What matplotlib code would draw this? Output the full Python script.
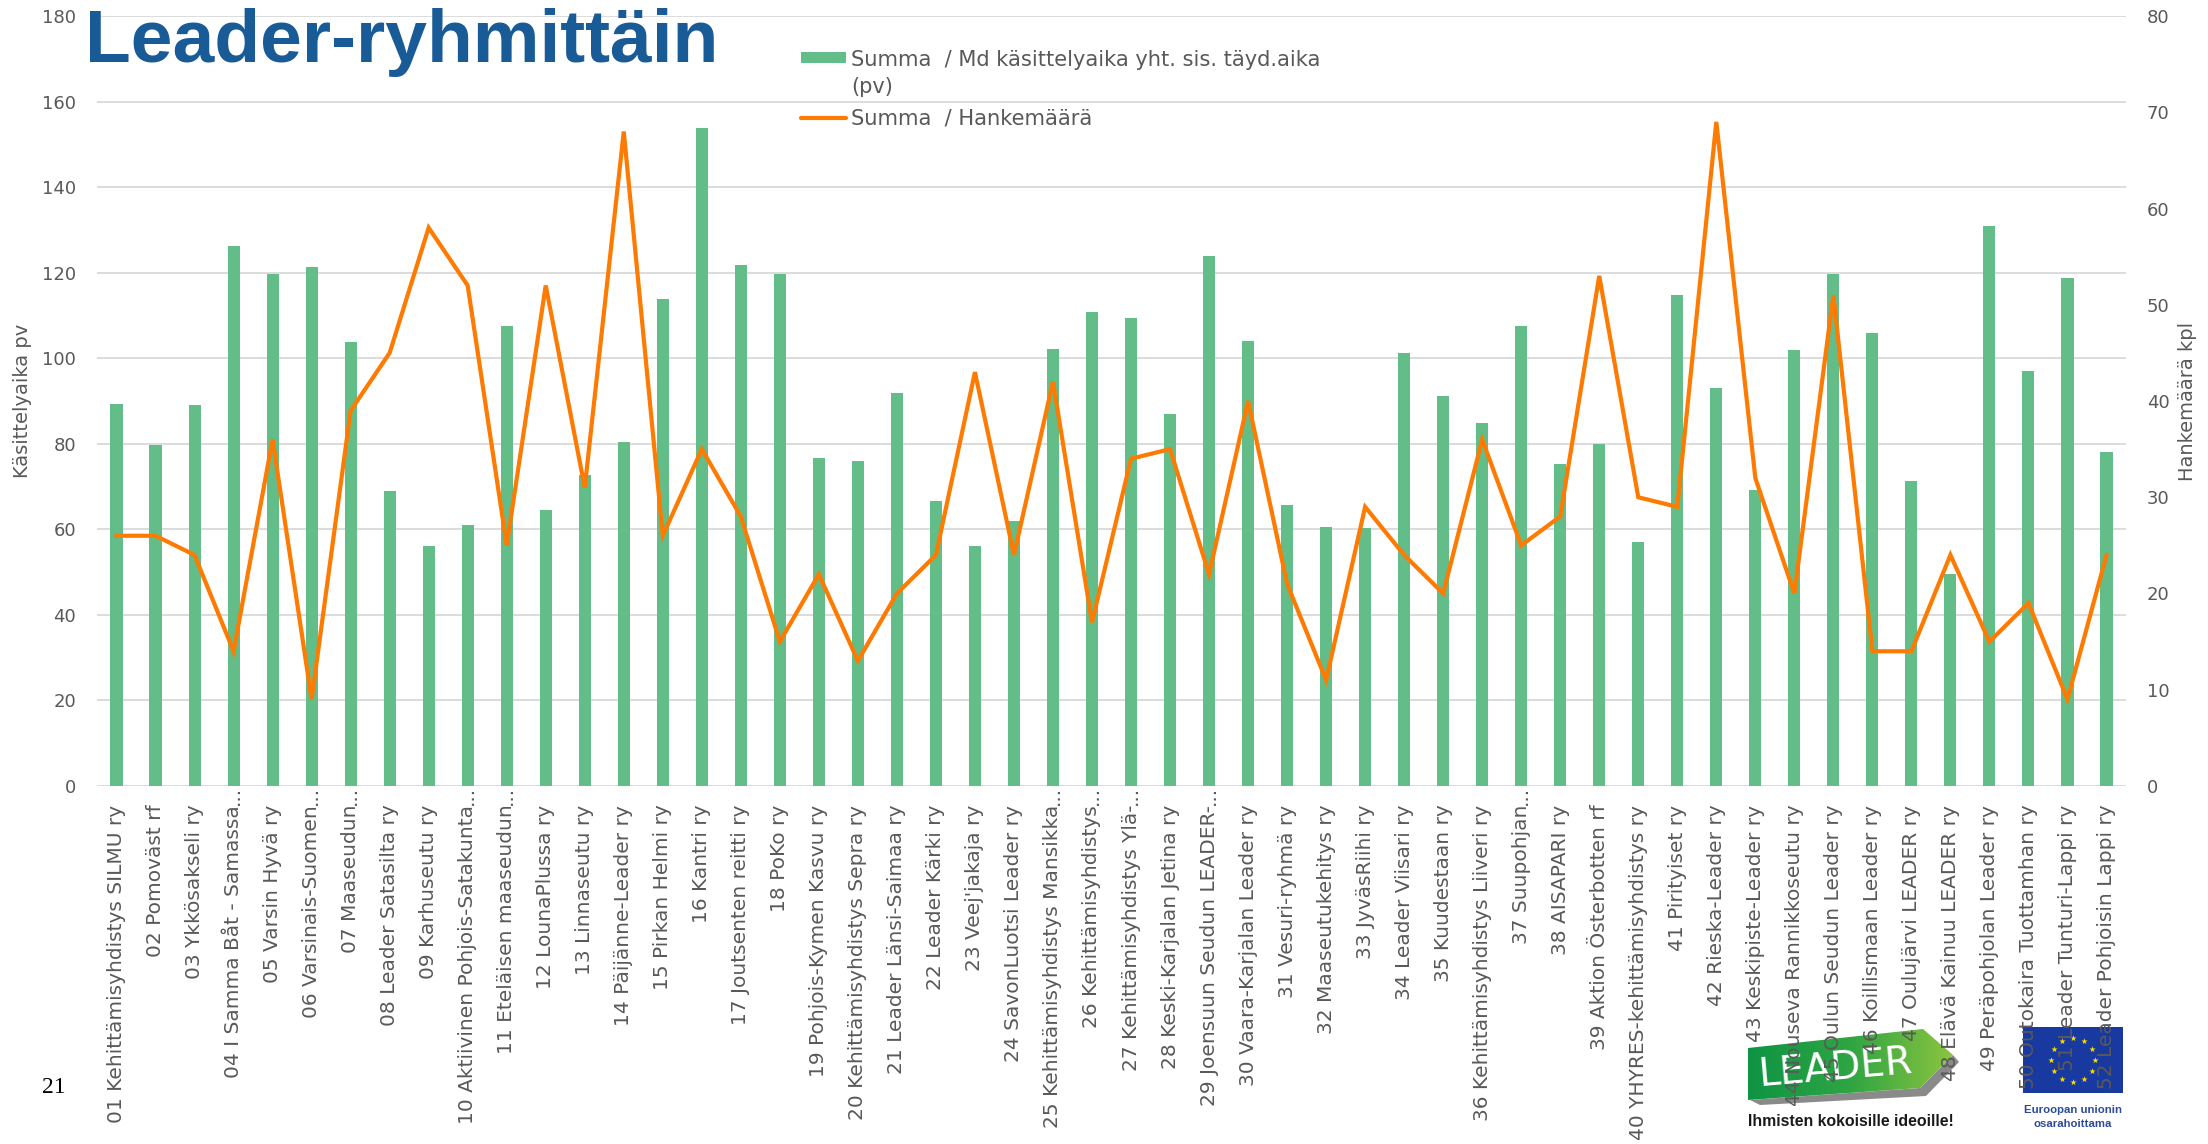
import numpy as np
import matplotlib
matplotlib.use("Agg")
import matplotlib.pyplot as plt
from matplotlib.patches import Polygon, Rectangle
from matplotlib.lines import Line2D
from matplotlib.colors import LinearSegmentedColormap

# ---------------- data ----------------
labels = [
    "01 Kehittämisyhdistys SILMU ry", "02 Pomoväst rf", "03 Ykkösakseli ry",
    "04 I Samma Båt - Samassa...", "05 Varsin Hyvä ry", "06 Varsinais-Suomen...",
    "07 Maaseudun...", "08 Leader Satasilta ry", "09 Karhuseutu ry",
    "10 Aktiivinen Pohjois-Satakunta...", "11 Eteläisen maaseudun...",
    "12 LounaPlussa ry", "13 Linnaseutu ry", "14 Päijänne-Leader ry",
    "15 Pirkan Helmi ry", "16 Kantri ry", "17 Joutsenten reitti ry", "18 PoKo ry",
    "19 Pohjois-Kymen Kasvu ry", "20 Kehittämisyhdistys Sepra ry",
    "21 Leader Länsi-Saimaa ry", "22 Leader Kärki ry", "23 Veej'jakaja ry",
    "24 SavonLuotsi Leader ry", "25 Kehittämisyhdistys Mansikka...",
    "26 Kehittämisyhdistys...", "27 Kehittämisyhdistys Ylä-...",
    "28 Keski-Karjalan Jetina ry", "29 Joensuun Seudun LEADER-...",
    "30 Vaara-Karjalan Leader ry", "31 Vesuri-ryhmä ry", "32 Maaseutukehitys ry",
    "33 JyväsRiihi ry", "34 Leader Viisari ry", "35 Kuudestaan ry",
    "36 Kehittämisyhdistys Liiveri ry", "37 Suupohjan...", "38 AISAPARI ry",
    "39 Aktion Österbotten rf", "40 YHYRES-kehittämisyhdistys ry",
    "41 Pirityiset ry", "42 Rieska-Leader ry", "43 Keskipiste-Leader ry",
    "44 Nouseva Rannikkoseutu ry", "45 Oulun Seudun Leader ry",
    "46 Koillismaan Leader ry", "47 Oulujärvi LEADER ry",
    "48 Elävä Kainuu LEADER ry", "49 Peräpohjolan Leader ry",
    "50 Outokaira Tuottamhan ry", "51 Leader Tunturi-Lappi ry",
    "52 Leader Pohjoisin Lappi ry",
]

kasittelyaika = [
    89.3, 79.7, 89.0, 126.2, 119.6, 121.3, 103.7, 68.9, 56.1, 61.0,
    107.5, 64.5, 72.7, 80.4, 113.9, 153.8, 121.7, 119.6, 76.7, 75.9,
    91.8, 66.6, 56.1, 62.0, 102.1, 110.8, 109.3, 86.9, 124.0, 104.0,
    65.6, 60.6, 60.3, 101.2, 91.1, 84.9, 107.5, 75.2, 79.9, 57.0,
    114.7, 93.0, 69.2, 101.9, 119.6, 106.0, 71.3, 49.5, 130.8, 97.0,
    118.8, 78.0,
]

hankemaara = [
    26, 26, 24, 14, 36, 9, 39, 45, 58, 52,
    25, 52, 31, 68, 26, 35, 28, 15, 22, 13,
    20, 24, 43, 24, 42, 17, 34, 35, 22, 40,
    21, 11, 29, 24, 20, 36, 25, 28, 53, 30,
    29, 69, 32, 20, 51, 14, 14, 24, 15, 19,
    9, 24,
]

left_ticks = list(range(0, 181, 20))
right_ticks = list(range(0, 81, 10))

title = "Leader-ryhmittäin"
legend_bar = "Summa  / Md käsittelyaika yht. sis. täyd.aika"
legend_bar2 = "(pv)"
legend_line = "Summa  / Hankemäärä"
ylabel_left = "Käsittelyaika pv"
ylabel_right = "Hankemäärä kpl"

# ---------------- style ----------------
W, H = 2208, 1144
DPI = 100
GREEN = "#63BD88"
ORANGE = "#FF7A00"
GRAY = "#595959"
GRID = "#D9D9D9"
TITLE_C = "#185B97"

plt.rcParams["font.family"] = ["DejaVu Sans"]

fig = plt.figure(figsize=(W / DPI, H / DPI), dpi=DPI, facecolor="white")

# plot area in pixels
L, R, T, B = 97, 2126, 16, 786
ax = fig.add_axes([L / W, 1 - B / H, (R - L) / W, (B - T) / H], zorder=1)
ax.set_facecolor("none")

x = np.arange(len(labels))
ax.bar(x, kasittelyaika, width=0.31, color=GREEN, zorder=2)
ax.set_xlim(-0.5, len(labels) - 0.5)
ax.set_ylim(0, 180)
ax.set_yticks(left_ticks)
ax.yaxis.grid(True, color=GRID, linewidth=1.3)
ax.set_axisbelow(True)
for s in ax.spines.values():
    s.set_visible(False)

tick_texts = [lab[:-3] if lab.endswith("...") else lab for lab in labels]
ax.set_xticks(x)
ax.set_xticklabels(tick_texts, rotation=90, fontsize=14.5, color=GRAY)
ax.tick_params(axis="x", length=0, pad=13.5)
ax.tick_params(axis="y", length=0, pad=15, labelsize=13, labelcolor=GRAY)
for i, lab in enumerate(labels):
    if lab.endswith("..."):
        ax.annotate("...", xy=(i, 0), xycoords=("data", "axes fraction"),
                    xytext=(0, -13.7), textcoords="offset points",
                    rotation=90, ha="center", va="bottom", fontsize=14.5,
                    color=GRAY, annotation_clip=False)

ax.set_ylabel(ylabel_left, fontsize=14, color=GRAY)
ax.yaxis.set_label_coords((32 - L) / (R - L), 0.5)

ax2 = ax.twinx()
ax2.plot(x, hankemaara, color=ORANGE, linewidth=3.0, zorder=3,
         solid_joinstyle="miter")
ax2.set_ylim(0, 80)
ax2.set_yticks(right_ticks)
ax2.tick_params(axis="y", length=0, pad=15, labelsize=13, labelcolor=GRAY)
for s in ax2.spines.values():
    s.set_visible(False)
ax2.set_ylabel(ylabel_right, fontsize=14, color=GRAY)
ax2.yaxis.set_label_coords((2178 - L) / (R - L), 0.5)

# ---------------- overlay (title + legend) in pixel coords ----------------
ov = fig.add_axes([0, 0, 1, 1], zorder=10)
ov.set_xlim(0, W)
ov.set_ylim(H, 0)
ov.axis("off")
ov.patch.set_alpha(0)

ov.text(85, 61.7, title, fontsize=54, fontweight="bold", color=TITLE_C,
        family=["Liberation Sans", "DejaVu Sans"], va="baseline", ha="left")

ov.add_patch(Rectangle((801, 52), 45, 11, color=GREEN, lw=0))
ov.add_line(Line2D([801, 846], [117.7, 117.7], color=ORANGE, lw=3.0,
                   solid_capstyle="round"))
ov.text(851, 66, legend_bar, fontsize=15.1, color=GRAY, va="baseline")
ov.text(851, 93, legend_bar2, fontsize=15.1, color=GRAY, va="baseline")
ov.text(851, 125, legend_line, fontsize=15.1, color=GRAY, va="baseline")

# page number
ov.text(42, 1093, "21", fontsize=17, color="black",
        family=["Liberation Serif", "DejaVu Serif"], va="baseline")

# ---------------- logos (beneath the tick labels) ----------------
lg = fig.add_axes([0, 0, 1, 1], zorder=-5)
lg.set_xlim(0, W)
lg.set_ylim(H, 0)
lg.axis("off")

# LEADER arrow logo
shadow = Polygon([(1750, 1100), (1920, 1088), (1953, 1055), (1959, 1062),
                  (1926, 1096), (1760, 1105)], closed=True,
                 color="#8A8A8A", lw=0)
lg.add_patch(shadow)
arrow = Polygon([(1748, 1048), (1923, 1029), (1953, 1055), (1920, 1088),
                 (1748, 1100)], closed=True, facecolor="none", lw=0)
lg.add_patch(arrow)
cmap = LinearSegmentedColormap.from_list("lg", ["#0E9444", "#2FA543", "#8CC43F"])
grad = np.linspace(0, 1, 256).reshape(1, -1)
im = lg.imshow(grad, cmap=cmap, extent=(1748, 1953, 1100, 1029),
               aspect="auto", zorder=1)
im.set_clip_path(arrow)
lg.text(1835, 1068, "LEADER", fontsize=28, color="white", rotation=5,
        ha="center", va="center", zorder=2)
lg.text(1748, 1126, "Ihmisten kokoisille ideoille!", fontsize=11.4,
        fontweight="bold", color="#1A1A1A",
        family=["Liberation Sans", "DejaVu Sans"], va="baseline")

# EU flag
lg.add_patch(Rectangle((2023, 1027), 100, 66, color="#1739A0", lw=0))
ang = np.linspace(0, 2 * np.pi, 13)[:-1]
lg.scatter(2073 + 22 * np.cos(ang), 1060 + 22 * np.sin(ang), marker="*",
           s=22, color="#FFDD00", lw=0, zorder=3)
lg.text(2073, 1113, "Euroopan unionin", fontsize=8.2, fontweight="bold",
        color="#2D4B9B", family=["Liberation Sans", "DejaVu Sans"],
        ha="center", va="baseline")
lg.text(2073, 1127, "osarahoittama", fontsize=8.2, fontweight="bold",
        color="#2D4B9B", family=["Liberation Sans", "DejaVu Sans"],
        ha="center", va="baseline")

fig.savefig("out.png", dpi=DPI, facecolor="white")
